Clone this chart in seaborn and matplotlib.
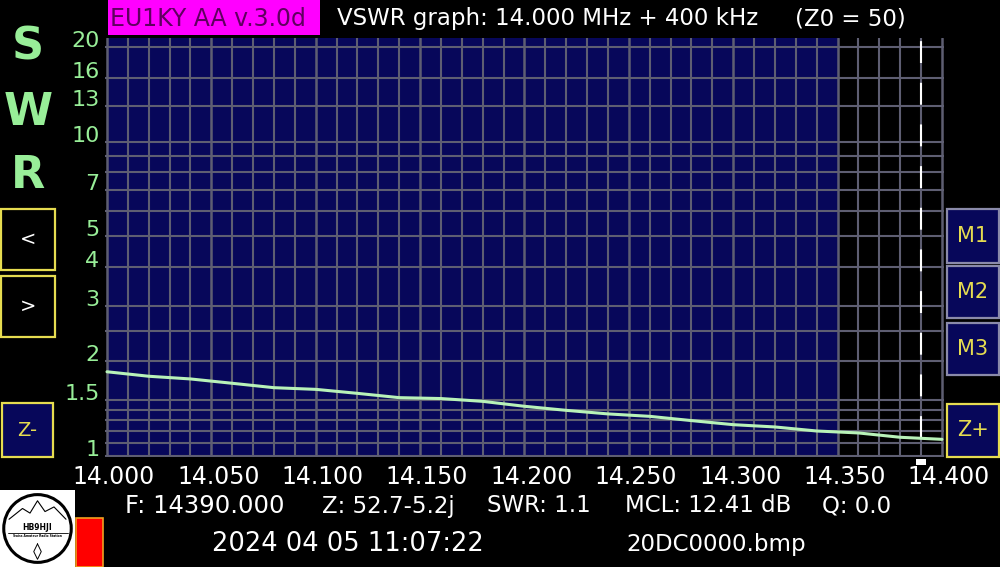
import numpy as np
import pandas as pd
import matplotlib
matplotlib.use("Agg")
import matplotlib.pyplot as plt
import matplotlib.patches as patches
import matplotlib.transforms as mtransforms
from matplotlib.ticker import FixedLocator, FixedFormatter, NullFormatter
import seaborn as sns

# --- data ---
freq_mhz = [14.000, 14.020, 14.040, 14.060, 14.080, 14.100, 14.120, 14.140,
            14.160, 14.180, 14.200, 14.220, 14.240, 14.260, 14.280, 14.300,
            14.320, 14.340, 14.360, 14.380, 14.400]
swr = [1.85, 1.79, 1.755, 1.70, 1.646, 1.626, 1.579, 1.53, 1.52, 1.489,
       1.436, 1.394, 1.358, 1.334, 1.293, 1.255, 1.234, 1.198, 1.181,
       1.144, 1.127]

freq_ticks = [14.000, 14.050, 14.100, 14.150, 14.200, 14.250, 14.300, 14.350, 14.400]
freq_minor = [14.010, 14.020, 14.030, 14.040, 14.060, 14.070, 14.080, 14.090,
              14.110, 14.120, 14.130, 14.140, 14.160, 14.170, 14.180, 14.190,
              14.210, 14.220, 14.230, 14.240, 14.260, 14.270, 14.280, 14.290,
              14.310, 14.320, 14.330, 14.340, 14.360, 14.370, 14.380, 14.390]
swr_ticks = [1, 1.5, 2, 3, 4, 5, 7, 10, 13, 16, 20]
swr_labels = ["1", "1.5", "2", "3", "4", "5", "7", "10", "13", "16", "20"]
swr_minor = [1.1, 1.2, 1.3, 1.4, 2.5, 6, 8, 9]

band_start = 14.000
band_end = 14.350
marker_freq = 14.390

header_left = "EU1KY AA v.3.0d"
header_title = "VSWR graph: 14.000 MHz + 400 kHz"
header_z0 = "(Z0 = 50)"
info_fields = ["F: 14390.000", "Z: 52.7-5.2j", "SWR: 1.1", "MCL: 12.41 dB", "Q: 0.0"]
timestamp = "2024 04 05 11:07:22"
filename = "20DC0000.bmp"

# --- colours ---
NAVY = "#07075a"
GRID = "#5e5e72"
GREEN = "#98ee98"
YELLOW = "#e6dc50"
TRACE = "#b8f2b8"

W, H = 1000, 567


def px_box(x0, y0, x1, y1):
    """pixel box (top-left origin) -> figure fraction [l, b, w, h]"""
    return (x0 / W, 1 - y1 / H, (x1 - x0) / W, (y1 - y0) / H)


def fig_text(fig, x, y, s, **kw):
    fig.text(x / W, 1 - y / H, s, **kw)


def button(fig, x0, y0, x1, y1, label, edge, face, color, size):
    l, b, w, h = px_box(x0, y0, x1, y1)
    fig.patches.append(patches.Rectangle((l, b), w, h, transform=fig.transFigure,
                                         facecolor=face, edgecolor=edge, lw=1.6))
    fig.text(l + w / 2, b + h / 2, label, ha="center", va="center",
             color=color, fontsize=size)


sns.set_theme(style="dark")
plt.rcParams["font.family"] = ["DejaVu Sans"]

fig = plt.figure(figsize=(10, 5.67), dpi=100, facecolor="black")

# axes: 14.000 at x=107 px, 14.400 at x=942 px, with 2 px margin each side
mhz_per_px = 0.4 / 835
ax = fig.add_axes(px_box(105, 38, 944, 457))
ax.set_facecolor("black")
ax.axvspan(band_start, band_end, color=NAVY, lw=0, zorder=1)

sns.lineplot(x=freq_mhz, y=swr, ax=ax, color=TRACE, lw=2.2, zorder=4)

ax.set_yscale("log")
ax.set_xlim(band_start - 2 * mhz_per_px, freq_ticks[-1] + 2 * mhz_per_px)
ax.set_ylim(0.99, 21.4)

ax.xaxis.set_major_locator(FixedLocator(freq_ticks))
ax.xaxis.set_minor_locator(FixedLocator(freq_minor))
ax.set_xticklabels([f"{f:.3f}" for f in freq_ticks])
ax.yaxis.set_major_locator(FixedLocator(swr_ticks))
ax.yaxis.set_major_formatter(FixedFormatter(swr_labels))
ax.yaxis.set_minor_locator(FixedLocator(swr_minor))
ax.yaxis.set_minor_formatter(NullFormatter())

ax.set_axisbelow("line")
ax.grid(True, which="major", axis="x", color=GRID, lw=1.8, zorder=2)
ax.grid(True, which="minor", axis="x", color=GRID, lw=1.5, zorder=2)
ax.grid(True, which="both", axis="y", color=GRID, lw=1.5, zorder=2)

ax.tick_params(axis="x", which="both", length=0, pad=6, labelsize=17, labelcolor="white")
ax.tick_params(axis="y", which="both", length=0, pad=4, labelsize=16, labelcolor=GREEN)
for t in ax.yaxis.get_major_ticks():
    t.label1.set_verticalalignment("baseline")
shift = mtransforms.ScaledTranslation(0.07, 0, fig.dpi_scale_trans)
for t in ax.xaxis.get_major_ticks():
    t.label1.set_transform(t.label1.get_transform() + shift)

for s in ax.spines.values():
    s.set_visible(False)
ax.set_xlabel("")
ax.set_ylabel("")

# marker line at the measured frequency
marker_swr = np.interp(marker_freq, freq_mhz, swr)
ax.plot([marker_freq, marker_freq], [marker_swr, ax.get_ylim()[1]], color="white",
        lw=1.5, ls=(0, (10.5, 9.5)), zorder=3)
blend = mtransforms.blended_transform_factory(ax.transData, ax.transAxes)
ax.add_patch(patches.Rectangle((marker_freq - 5 * mhz_per_px, -0.019), 10 * mhz_per_px, 0.0145,
                               transform=blend, facecolor="white", lw=0, clip_on=False))

# header
l, b, w, h = px_box(108, 0, 320, 35)
fig.patches.append(patches.Rectangle((l, b), w, h, transform=fig.transFigure,
                                     facecolor="#ff00ff", lw=0))
fig_text(fig, 110, 19, header_left, ha="left", va="center", color="#600060", fontsize=17)
fig_text(fig, 337, 19, header_title, ha="left", va="center", color="white", fontsize=16.5)
fig_text(fig, 795, 19, header_z0, ha="left", va="center", color="white", fontsize=16.5)

# big S W R letters
for letter, yc in zip("SWR", [47, 113, 175]):
    fig_text(fig, 28, yc, letter, ha="center", va="center", color=GREEN,
             fontsize=32, fontweight="bold")

# side buttons
button(fig, 1, 209, 55, 270, "<", YELLOW, "black", "white", 14)
button(fig, 1, 276, 55, 337, ">", YELLOW, "black", "white", 14)
button(fig, 2, 403, 53, 457, "Z-", YELLOW, NAVY, YELLOW, 14)
button(fig, 947, 209, 999, 263, "M1", "#8a8aaa", NAVY, YELLOW, 15)
button(fig, 947, 266, 999, 318, "M2", "#8a8aaa", NAVY, YELLOW, 15)
button(fig, 947, 323, 999, 375, "M3", "#8a8aaa", NAVY, YELLOW, 15)
button(fig, 947, 404, 999, 457, "Z+", YELLOW, NAVY, YELLOW, 15)

# info line
for txt, x, size in zip(info_fields, [125, 322, 487, 625, 822], [17.5, 16.5, 16.5, 16.5, 16.5]):
    fig_text(fig, x, 506, txt, ha="left", va="center", color="white", fontsize=size)
fig_text(fig, 348, 544, timestamp, ha="center", va="center", color="white", fontsize=18.5)
fig_text(fig, 716, 544, filename, ha="center", va="center", color="white", fontsize=16.5)

# red block
l, b, w, h = px_box(76, 518, 103, 567)
fig.patches.append(patches.Rectangle((l, b), w, h, transform=fig.transFigure,
                                     facecolor="#ff0000", edgecolor="#f0a020", lw=1.2))

# station logo
lax = fig.add_axes(px_box(0, 490, 75, 567))
lax.set_xlim(0, 1)
lax.set_ylim(0, 1)
lax.set_facecolor("white")
lax.set_xticks([])
lax.set_yticks([])
for s in lax.spines.values():
    s.set_visible(False)
lax.add_patch(patches.Ellipse((0.5, 0.5), 0.9, 0.88, facecolor="white", edgecolor="black", lw=2.2))
lax.plot([0.12, 0.3, 0.4, 0.5, 0.6, 0.72, 0.88], [0.62, 0.76, 0.7, 0.86, 0.72, 0.78, 0.62],
         color="black", lw=0.8)
lax.text(0.5, 0.51, "HB9HJI", ha="center", va="center", fontsize=5.5, fontweight="bold", color="black")
lax.text(0.5, 0.4, "Swiss Amateur Radio Station", ha="center", va="center", fontsize=2.2,
         color="black", fontweight="bold")
lax.plot([0.1, 0.9], [0.44, 0.44], color="black", lw=0.6)
lax.plot([0.5, 0.45, 0.5, 0.55, 0.5], [0.3, 0.2, 0.1, 0.2, 0.3], color="black", lw=0.7)

fig.savefig("out.png", dpi=100, facecolor="black")
